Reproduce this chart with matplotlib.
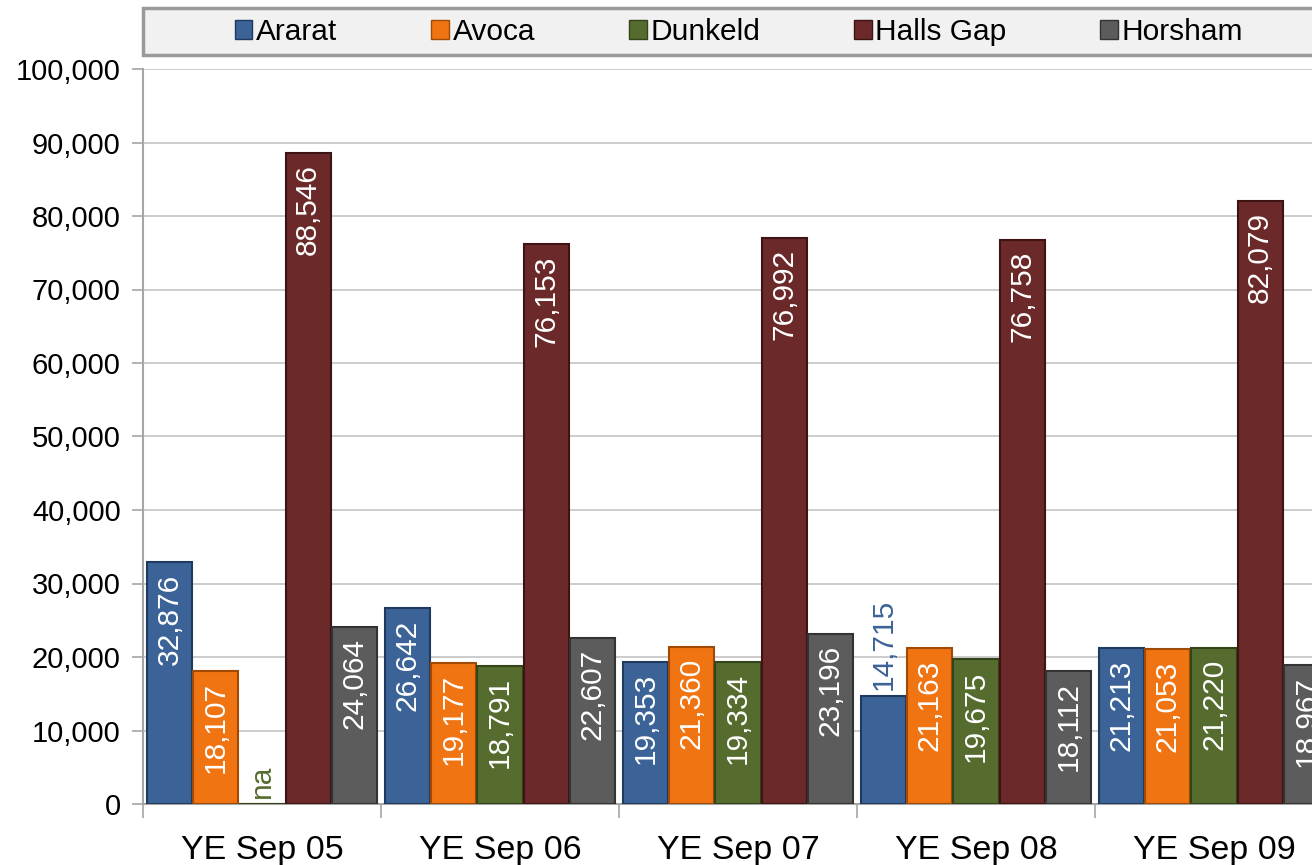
import matplotlib
matplotlib.use('Agg')
import matplotlib.pyplot as plt
import numpy as np
from matplotlib.patches import Rectangle
from matplotlib.ticker import FuncFormatter, FixedLocator

plt.rcParams['font.family'] = ['Liberation Sans', 'DejaVu Sans']

periods = ['YE Sep 05', 'YE Sep 06', 'YE Sep 07', 'YE Sep 08', 'YE Sep 09']
towns = ['Ararat', 'Avoca', 'Dunkeld', 'Halls Gap', 'Horsham']
ararat = [32876, 26642, 19353, 14715, 21213]
avoca = [18107, 19177, 21360, 21163, 21053]
dunkeld = [np.nan, 18791, 19334, 19675, 21220]
halls_gap = [88546, 76153, 76992, 76758, 82079]
horsham = [24064, 22607, 23196, 18112, 18967]

series = [ararat, avoca, dunkeld, halls_gap, horsham]
colors = ['#3b6397', '#f07412', '#566c2e', '#6b2929', '#5c5c5c']
edges = ['#1f3a5e', '#a04a05', '#33431a', '#3e1313', '#333333']

fig = plt.figure(figsize=(13.12, 8.65), dpi=100)
# axes runs past the right edge like in the original crop
ax = fig.add_axes([143 / 1312, 1 - 804 / 865, 1190 / 1312, 735 / 865])

x = np.arange(len(periods))
step = 0.194
w = 0.19
for i, (vals, c, ec) in enumerate(zip(series, colors, edges)):
    vals = np.array(vals, dtype=float)
    xs = x + (i - 2) * step
    ax.bar(xs, np.nan_to_num(vals), w, color=c, edgecolor=ec, linewidth=1.5, zorder=3)
    for xx, v in zip(xs, vals):
        if np.isnan(v):
            ax.annotate('na', (xx, 0), xytext=(0, 4), textcoords='offset points',
                        rotation=90, ha='center', va='bottom', color=c, fontsize=21.5, zorder=4)
        elif v > 16000:
            ax.annotate('{:,.0f}'.format(v), (xx, v), xytext=(0, -8), textcoords='offset points',
                        rotation=90, ha='center', va='top', color='white', fontsize=21.5, zorder=4)
        else:
            ax.annotate('{:,.0f}'.format(v), (xx, v), xytext=(0, 4), textcoords='offset points',
                        rotation=90, ha='center', va='bottom', color=c, fontsize=21.5, zorder=4)

ax.set_xlim(-0.5, len(periods) - 0.5)
ax.set_ylim(0, 100000)
ax.set_yticks(np.arange(0, 100001, 10000))
ax.yaxis.set_major_formatter(FuncFormatter(lambda v, p: '{:,.0f}'.format(v)))
ax.set_xticks(x)
ax.set_xticklabels(periods)
ax.xaxis.set_minor_locator(FixedLocator(np.arange(-0.5, len(periods), 1.0)))
ax.tick_params(axis='x', which='major', length=0, pad=22, labelsize=24.5)
ax.tick_params(axis='x', which='minor', length=10, color='#a6a6a6', width=1.2)
ax.tick_params(axis='y', length=8, color='#a6a6a6', width=1.2, pad=8, labelsize=21)
ax.grid(axis='y', color='#c4c4c4', linewidth=1.2, zorder=0)
for s in ['top', 'right']:
    ax.spines[s].set_visible(False)
for s in ['left', 'bottom']:
    ax.spines[s].set_color('#a6a6a6')
    ax.spines[s].set_linewidth(1.5)

# legend box across the top
fig.patches.append(Rectangle((143 / 1312, 1 - 55 / 865), 1220 / 1312, 47 / 865,
                             transform=fig.transFigure, facecolor='#f1f1f1',
                             edgecolor='#9a9a9a', linewidth=2.5, zorder=1))
handles = [Rectangle((0, 0), 1, 1, facecolor=c, edgecolor=ec, linewidth=1)
           for c, ec in zip(colors, edges)]
fig.legend(handles, towns, loc='center', bbox_to_anchor=(739 / 1312, 1 - 32 / 865),
           ncol=5, frameon=False, fontsize=21.5, handlelength=0.6, handleheight=0.6,
           handletextpad=0.12, columnspacing=3.14, borderpad=0)

fig.savefig('out.png', dpi=100)
